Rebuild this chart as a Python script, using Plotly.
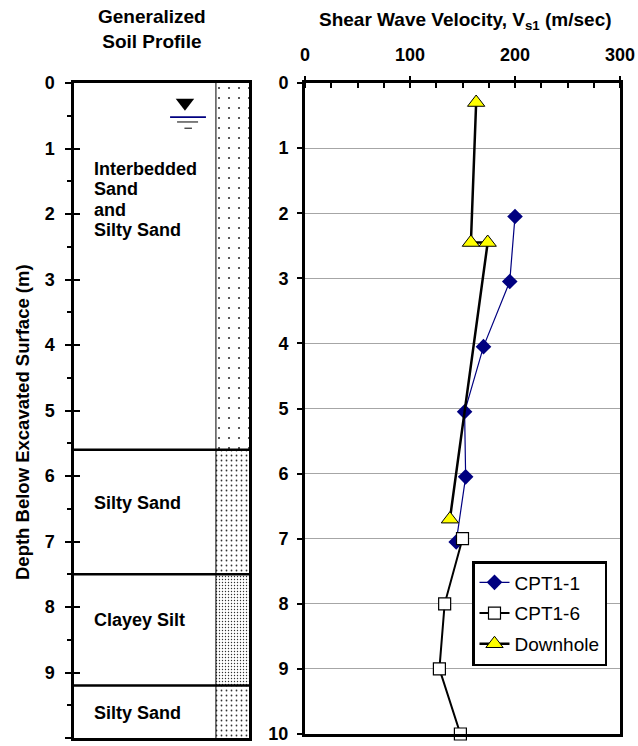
import plotly.graph_objects as go

# ---------------- data ----------------
cpt11_depth = [2.05, 3.05, 4.05, 5.05, 6.05, 7.05]
cpt11_vs = [200, 195, 170, 152, 153, 144]
cpt16_depth = [7.0, 8.0, 9.0, 10.0]
cpt16_vs = [150, 133, 128, 148]
dh_depth = [0.3, 2.45, 2.45, 6.7]
dh_vs = [163, 158, 174, 138]

layer_top = [0.0, 5.6, 7.5, 9.2]
layer_bottom = [5.6, 7.5, 9.2, 10.0]
layer_names = [["Interbedded", "Sand", "and", "Silty Sand"], ["Silty Sand"], ["Clayey Silt"], ["Silty Sand"]]
label_depth = [1.78, 6.41, 8.2, 9.62]
pattern_size = [10, 5, 3, 5]
pattern_solidity = [0.035, 0.1, 0.16, 0.1]
water_table = 0.52

depth_ticks = list(range(0, 11))
vs_ticks = [0, 100, 200, 300]

FONT = "Liberation Sans, Arial, sans-serif"
W, H = 638, 746
LINE_STEP = 0.313  # label line spacing in depth units (~20.5 px)

def px_x(p):
    return p / W

def px_y(p):
    return 1 - p / H

fig = go.Figure()

# ---------------- soil profile column ----------------
col_left, col_right = 0.811, 1.0
fig.add_trace(go.Bar(
    x=[(col_left + col_right) / 2] * len(layer_top),
    y=[b - t for t, b in zip(layer_top, layer_bottom)],
    base=layer_top,
    width=[col_right - col_left] * len(layer_top),
    marker=dict(color="white", line=dict(width=0),
                pattern=dict(shape=".", size=pattern_size, solidity=pattern_solidity,
                             fgcolor="#333333", bgcolor="white", fillmode="replace")),
    xaxis="x", yaxis="y", showlegend=False, hoverinfo="skip",
))

# water table symbol
fig.add_trace(go.Scatter(
    x=[0.634], y=[water_table - 0.22], mode="markers",
    marker=dict(symbol="triangle-down", size=16, color="black"),
    xaxis="x", yaxis="y", showlegend=False, hoverinfo="skip",
))
# invisible trace for overlay tick axis
fig.add_trace(go.Scatter(x=[0.5], y=[5], mode="markers", marker=dict(opacity=0),
                         xaxis="x", yaxis="y3", showlegend=False, hoverinfo="skip"))

# ---------------- velocity traces ----------------
fig.add_trace(go.Scatter(
    x=cpt11_vs, y=cpt11_depth, name="CPT1-1", mode="lines+markers",
    line=dict(color="#000080", width=1.2),
    marker=dict(symbol="diamond", size=12, color="#000080"),
    xaxis="x2", yaxis="y2", legendgroup="a", cliponaxis=False,
))
fig.add_trace(go.Scatter(
    x=cpt16_vs, y=cpt16_depth, name="CPT1-6", mode="lines+markers",
    line=dict(color="black", width=2),
    marker=dict(symbol="square", size=12, color="white", line=dict(color="black", width=1.2)),
    xaxis="x2", yaxis="y2", legendgroup="b", cliponaxis=False,
))
fig.add_trace(go.Scatter(
    x=dh_vs, y=dh_depth, name="Downhole", mode="lines+markers",
    line=dict(color="black", width=2.5),
    marker=dict(symbol="triangle-up", size=15, color="#ffff00", line=dict(color="black", width=1)),
    xaxis="x2", yaxis="y2", legendgroup="c", cliponaxis=False,
))

shapes = []
# layer boundaries
for t in layer_top[1:]:
    shapes.append(dict(type="line", xref="x", yref="y", x0=0, x1=1, y0=t, y1=t,
                       line=dict(color="black", width=2.5)))
# inner vertical line of pattern column
shapes.append(dict(type="line", xref="x", yref="y", x0=col_left, x1=col_left,
                   y0=layer_top[0], y1=layer_bottom[-1], line=dict(color="black", width=1)))
# water table lines
shapes.append(dict(type="line", xref="x", yref="y", x0=0.549, x1=0.754,
                   y0=water_table, y1=water_table, line=dict(color="#000080", width=1.8)))
shapes.append(dict(type="line", xref="x", yref="y", x0=0.589, x1=0.709,
                   y0=water_table + 0.075, y1=water_table + 0.075, line=dict(color="black", width=1)))
shapes.append(dict(type="line", xref="x", yref="y", x0=0.631, x1=0.674,
                   y0=water_table + 0.17, y1=water_table + 0.17, line=dict(color="black", width=1)))

annotations = []
for lines, d in zip(layer_names, label_depth):
    n = len(lines)
    for i, txt in enumerate(lines):
        yy = d + (i - (n - 1) / 2) * LINE_STEP
        annotations.append(dict(xref="x", yref="y", x=0.103, y=yy, text=txt, showarrow=False,
                                xanchor="left", yanchor="middle", align="left",
                                font=dict(family=FONT, size=18, color="black", weight="bold")))
annotations.append(dict(xref="paper", yref="paper", x=px_x(152), y=px_y(29),
                        text="Generalized<br>Soil Profile", showarrow=False,
                        xanchor="center", yanchor="middle",
                        font=dict(family=FONT, size=19, color="black", weight="bold")))
annotations.append(dict(xref="paper", yref="paper", x=px_x(465), y=px_y(21),
                        text="Shear Wave Velocity, V<sub>s1</sub> (m/sec)", showarrow=False,
                        xanchor="center", yanchor="middle",
                        font=dict(family=FONT, size=19, color="black", weight="bold")))
annotations.append(dict(xref="paper", yref="paper", x=px_x(22), y=px_y(422),
                        text="Depth Below Excavated Surface (m)", showarrow=False, textangle=-90,
                        xanchor="center", yanchor="middle",
                        font=dict(family=FONT, size=18.5, color="black", weight="bold")))

tickfont = dict(family=FONT, size=18, color="black", weight="bold")

fig.update_layout(
    width=W, height=H,
    margin=dict(l=0, r=0, t=0, b=0, autoexpand=False),
    paper_bgcolor="white", plot_bgcolor="white",
    barmode="overlay",
    shapes=shapes, annotations=annotations,
    xaxis=dict(domain=[px_x(74), px_x(249)], range=[0, 1], anchor="y", automargin=False,
               showline=True, mirror=True, linecolor="black", linewidth=2.5,
               showticklabels=False, ticks="", showgrid=False, zeroline=False, fixedrange=True),
    yaxis=dict(domain=[px_y(738), px_y(83)], range=[10, 0], anchor="x", automargin=False,
               tickvals=depth_ticks, ticks="outside", ticklen=6, tickwidth=2, tickcolor="black",
               showline=True, mirror=True, linecolor="black", linewidth=2.5,
               minor=dict(ticks="outside", dtick=0.5, tick0=0, ticklen=4, tickwidth=2, tickcolor="black"),
               tickfont=tickfont, showgrid=False, zeroline=False, ticklabelstandoff=7),
    yaxis3=dict(overlaying="y", anchor="x", range=[10, 0], tickvals=depth_ticks, automargin=False,
                ticks="inside", ticklen=6, tickwidth=2, tickcolor="black",
                showticklabels=False, showline=False, showgrid=False, zeroline=False),
    xaxis2=dict(domain=[px_x(305), px_x(620)], range=[0, 300], anchor="y2", side="top", automargin=False,
                tickvals=vs_ticks, ticks="outside", ticklen=4, tickwidth=2, tickcolor="black",
                minor=dict(ticks="inside", dtick=25, tick0=0, ticklen=5, tickwidth=1.5, tickcolor="black"),
                showline=True, mirror=True, linecolor="black", linewidth=3,
                showgrid=False, zeroline=False, tickfont=tickfont, ticklabelstandoff=8),
    yaxis2=dict(domain=[px_y(734), px_y(83)], range=[10, 0], anchor="x2", automargin=False,
                tickvals=depth_ticks, ticks="outside", ticklen=5, tickwidth=2, tickcolor="black",
                showline=True, mirror=True, linecolor="black", linewidth=3,
                showgrid=True, gridcolor="#a6a6a6", gridwidth=1,
                zeroline=False, tickfont=tickfont, ticklabelstandoff=5),
    legend=dict(x=px_x(472), y=px_y(561), xanchor="left", yanchor="top",
                bordercolor="black", borderwidth=2.5, bgcolor="white",
                font=dict(family=FONT, size=19, color="black"),
                tracegroupgap=3, itemwidth=30),
    showlegend=True,
)

fig.write_html("out.html")
